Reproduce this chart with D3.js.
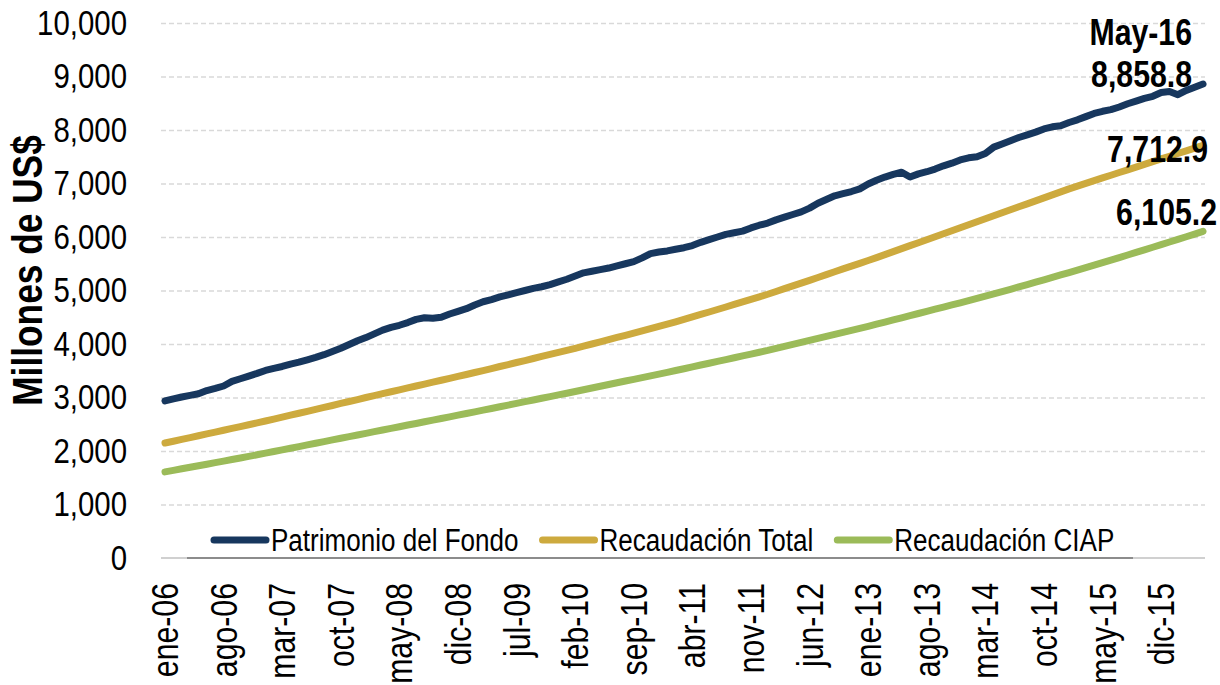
<!DOCTYPE html>
<html>
<head>
<meta charset="utf-8">
<script src="https://cdn.jsdelivr.net/npm/d3@7"></script>
<style>
  body { margin: 0; background: #fff; }
  svg { display: block; font-family: "Liberation Sans", Arial, sans-serif; }
</style>
</head>
<body>
<div class="chart"></div>
<script>
// meses y años del eje (ene-06 .. may-16)
var meses = ["ene","feb","mar","abr","may","jun","jul","ago","sep","oct","nov","dic"];
var anios = ["06","07","08","09","10","11","12","13","14","15","16"];

var tickLabels = ["ene-06","ago-06","mar-07","oct-07","may-08","dic-08","jul-09","feb-10","sep-10",
                  "abr-11","nov-11","jun-12","ene-13","ago-13","mar-14","oct-14","may-15","dic-15"];

var yTicks = [0,1000,2000,3000,4000,5000,6000,7000,8000,9000,10000];

var seriesNames = ["Patrimonio del Fondo","Recaudación Total","Recaudación CIAP"];

// millones de US$, mensual
var patrimonio = [
  2935,2975,3010,3040,3070,3130,3170,3215,3300,3350,
  3400,3450,3505,3545,3580,3625,3660,3705,3750,3800,
  3860,3920,3990,4060,4120,4190,4260,4310,4350,4400,
  4460,4490,4480,4500,4560,4610,4660,4730,4790,4830,
  4880,4920,4960,5000,5040,5070,5110,5160,5210,5270,
  5330,5360,5390,5420,5460,5500,5540,5610,5690,5720,
  5740,5770,5800,5840,5900,5950,6000,6050,6080,6110,
  6170,6220,6260,6320,6370,6420,6470,6540,6630,6700,
  6770,6810,6850,6900,6990,7060,7120,7170,7210,7120,
  7180,7220,7270,7330,7380,7440,7480,7500,7560,7680,
  7740,7800,7860,7910,7960,8020,8060,8080,8140,8190,
  8250,8310,8350,8380,8430,8490,8540,8590,8630,8700,
  8720,8660,8740,8800,8858.8];

var recaudacionTotal = [
  2150,2183,2218,2251,2285,2320,2353,2388,2422,2457,
  2490,2525,2560,2596,2632,2669,2705,2742,2778,2815,
  2851,2889,2925,2962,3000,3035,3071,3107,3143,3179,
  3215,3251,3287,3322,3358,3394,3430,3467,3504,3541,
  3579,3616,3654,3691,3729,3767,3805,3842,3880,3920,
  3960,4000,4041,4081,4122,4162,4203,4244,4286,4328,
  4370,4415,4460,4506,4552,4598,4645,4692,4740,4787,
  4835,4882,4930,4982,5034,5086,5138,5190,5243,5296,
  5350,5403,5456,5508,5560,5615,5670,5726,5782,5838,
  5894,5950,6006,6062,6118,6174,6230,6286,6342,6398,
  6454,6510,6565,6620,6676,6732,6788,6844,6900,6951,
  7002,7053,7104,7155,7206,7256,7307,7358,7408,7459,
  7510,7560,7611,7662,7712.9];

var recaudacionCIAP = [
  1610,1638,1667,1695,1724,1753,1782,1811,1840,1870,
  1900,1930,1960,1990,2021,2052,2083,2114,2145,2176,
  2207,2238,2268,2299,2330,2361,2392,2423,2454,2485,
  2515,2546,2577,2608,2639,2670,2700,2732,2763,2795,
  2827,2858,2890,2922,2953,2985,3017,3048,3080,3112,
  3145,3178,3210,3243,3275,3308,3340,3372,3405,3437,
  3470,3504,3538,3573,3607,3641,3675,3709,3743,3778,
  3812,3846,3880,3918,3955,3992,4030,4068,4105,4142,
  4180,4218,4255,4292,4330,4370,4410,4450,4490,4530,
  4570,4610,4650,4690,4730,4770,4810,4852,4894,4937,
  4980,5023,5067,5111,5155,5200,5245,5290,5336,5382,
  5428,5475,5522,5569,5616,5664,5712,5760,5808,5857,
  5906,5955,6005,6055,6105.2];

var colors = ["#17375e", "#cdaa3e", "#9bbb59"];

var categories = [];
anios.forEach(function(a) {
  meses.forEach(function(m) { categories.push(m + "-" + a); });
});
categories = categories.slice(0, patrimonio.length);

var series = [patrimonio, recaudacionTotal, recaudacionCIAP];

var W = 1220, H = 685;
var margin = {top: 23, right: 15, bottom: 127, left: 161},
    width = W - margin.left - margin.right,
    height = H - margin.top - margin.bottom;

// squeeze text horizontally (no narrow font available)
var NARROW = 0.84;
function narrow(sel) {
  sel.each(function() {
    var L = this.getComputedTextLength();
    d3.select(this)
      .attr("textLength", L * NARROW)
      .attr("lengthAdjust", "spacingAndGlyphs");
  });
  return sel;
}

var svg = d3.select(".chart").append("svg")
    .attr("width", W)
    .attr("height", H);

var g = svg.append("g")
    .attr("transform", "translate(" + margin.left + "," + margin.top + ")");

var x = d3.scalePoint()
    .domain(categories)
    .range([4, width - 2]);

var y = d3.scaleLinear()
    .domain([0, 10000])
    .range([height, 0]);

// gridlines
var grid = g.append("g")
    .call(d3.axisLeft(y).tickValues(yTicks.slice(1)).tickSize(-width).tickFormat(""));
grid.select(".domain").remove();
grid.selectAll("line")
    .attr("stroke", "#d9d9d9")
    .attr("stroke-width", 1.3)
    .attr("stroke-dasharray", "5,3");

// y labels
var yAxis = g.append("g")
    .call(d3.axisLeft(y).tickValues(yTicks).tickSize(0).tickPadding(34).tickFormat(d3.format(",")));
yAxis.select(".domain").remove();
yAxis.selectAll("text")
    .attr("fill", "#000")
    .style("font-family", "'Liberation Sans', Arial, sans-serif")
    .style("font-size", "35px")
    .call(narrow);

// x axis line
g.append("line")
    .attr("x1", 0).attr("x2", width)
    .attr("y1", height).attr("y2", height)
    .attr("stroke", "#d0d0d0")
    .attr("stroke-width", 2);
g.append("line")
    .attr("x1", 26).attr("x2", 972)
    .attr("y1", height).attr("y2", height)
    .attr("stroke", "#8c8c8c")
    .attr("stroke-width", 2);

var xAxis = g.append("g")
    .attr("transform", "translate(0," + height + ")")
    .call(d3.axisBottom(x).tickValues(tickLabels).tickSize(0));
xAxis.select(".domain").remove();
xAxis.selectAll("text")
    .attr("transform", "rotate(-90)")
    .attr("x", -25)
    .attr("y", 0)
    .attr("dy", "0.35em")
    .attr("fill", "#000")
    .style("text-anchor", "end")
    .style("font-family", "'Liberation Sans', Arial, sans-serif")
    .style("font-size", "36px")
    .call(narrow);

// y title
svg.append("text")
    .attr("transform", "translate(42," + (margin.top + height / 2 - 20) + ") rotate(-90)")
    .style("text-anchor", "middle")
    .style("font-size", "42px")
    .style("font-weight", "bold")
    .attr("fill", "#000")
    .text("Millones de US$")
    .call(narrow);

// lines
var line = d3.line()
    .x(function(d, i) { return x(categories[i]); })
    .y(function(d) { return y(d); });

series.slice().reverse().forEach(function(s, k) {
  var idx = series.length - 1 - k;
  g.append("path")
      .datum(s)
      .attr("fill", "none")
      .attr("stroke", colors[idx])
      .attr("stroke-width", 7)
      .attr("stroke-linecap", "round")
      .attr("stroke-linejoin", "round")
      .attr("d", line);
});

// end labels
var last = categories.length - 1;
var lx = x(categories[last]);
function endLabel(txt, dx, yy) {
  g.append("text")
      .attr("x", lx + dx)
      .attr("y", yy)
      .style("text-anchor", "end")
      .style("font-size", "36px")
      .style("font-weight", "bold")
      .attr("fill", "#000")
      .text(txt)
      .call(narrow);
}
var fmt = d3.format(",.1f");
endLabel(categories[last].replace("may", "May"), -11, y(patrimonio[last]) - 39);
endLabel(fmt(patrimonio[last]), -11, y(patrimonio[last]) + 3);
endLabel(fmt(recaudacionTotal[last]), 5, y(recaudacionTotal[last]) + 17);
endLabel(fmt(recaudacionCIAP[last]), 14, y(recaudacionCIAP[last]) - 6);

// legend
var legend = svg.append("g").attr("transform", "translate(214,540)");
var lxPos = 0;
seriesNames.forEach(function(name, i) {
  legend.append("line")
      .attr("x1", lxPos).attr("x2", lxPos + 52)
      .attr("y1", 0).attr("y2", 0)
      .attr("stroke", colors[i])
      .attr("stroke-width", 7)
      .attr("stroke-linecap", "round");
  var t = legend.append("text")
      .attr("x", lxPos + 57)
      .attr("y", 0)
      .attr("dy", "0.35em")
      .style("font-size", "31px")
      .attr("fill", "#000")
      .text(name);
  var L = t.node().getComputedTextLength() * NARROW;
  t.call(narrow);
  lxPos += 57 + L + 24;
});
</script>
</body>
</html>
